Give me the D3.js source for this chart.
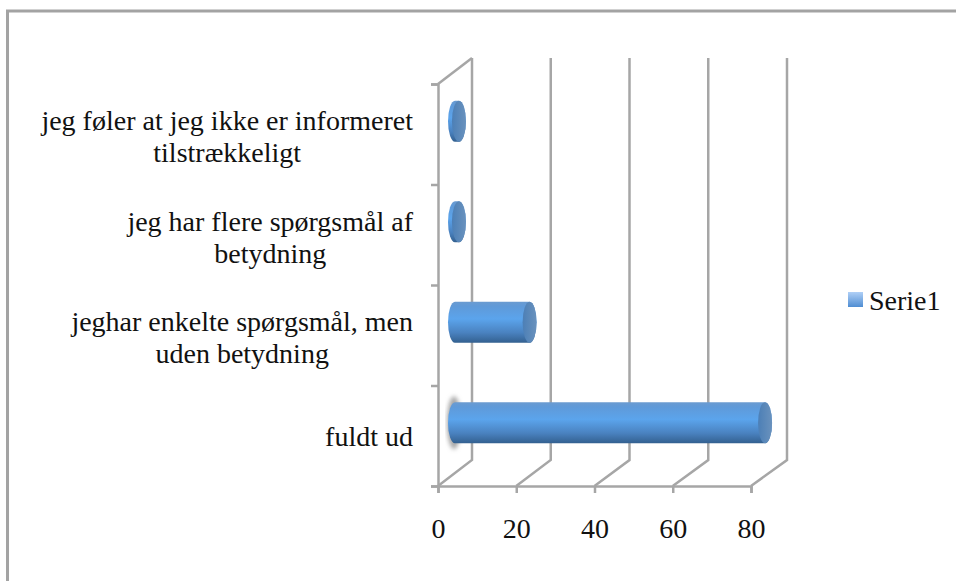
<!DOCTYPE html>
<html>
<head>
<meta charset="utf-8">
<script src="https://cdn.jsdelivr.net/npm/d3@7"></script>
<style>
html, body { margin: 0; padding: 0; background: #fff; }
svg { display: block; }
text { font-family: "Liberation Serif", serif; fill: #111; }
</style>
</head>
<body>
<script>
const width = 956, height = 581;

const categories = ["fuldt ud", "jeghar enkelte", "jeg har flere", "jeg føler"];
const categoryLines = [
    ["fuldt ud"],
    ["jeghar enkelte spørgsmål, men", "uden betydning"],
    ["jeg har flere spørgsmål af", "betydning"],
    ["jeg føler at jeg ikke er informeret", "tilstrækkeligt"]
];
const values = [79, 19, 1, 1];
const xTicks = [0, 20, 40, 60, 80];
const seriesName = "Serie1";

// front plane of the 3d box, and the back wall which is a bit wider
const x = d3.scaleLinear().domain([0, 80]).range([438, 751]);
const xBack = d3.scaleLinear().domain([0, 80]).range([472, 787]);
const y = d3.scaleBand().domain(categories.slice().reverse()).range([84, 486]);
const depthY = -26;
const grey = "#a6a6a6";
const fontSize = 28;

const svg = d3.select("body").append("svg")
    .attr("width", width).attr("height", height)
    .attr("viewBox", [0, 0, width, height]);

const defs = svg.append("defs");

function gradient(id, stops, horizontal) {
    const g = defs.append("linearGradient").attr("id", id)
        .attr("x1", 0).attr("y1", 0)
        .attr("x2", horizontal ? 1 : 0).attr("y2", horizontal ? 0 : 1);
    stops.forEach(s => g.append("stop").attr("offset", s[0]).attr("stop-color", s[1]));
}
gradient("body", [[0, "#6b9bd0"], [0.12, "#5f9ad9"], [0.42, "#5ba4ec"], [0.75, "#4a82c0"], [1, "#33608f"]]);
gradient("cap", [[0, "#4c7fb6"], [1, "#6a92bd"]], true);
gradient("swatch", [[0, "#b0d0f7"], [1, "#4f8dd2"]]);
defs.append("filter").attr("id", "blur").append("feGaussianBlur").attr("stdDeviation", 2.2);

// outer frame, only top and left are visible
svg.append("path")
    .attr("d", d3.line()([[7.5, height], [7.5, 11], [width, 11]]))
    .attr("fill", "none").attr("stroke", "#a3a3a3").attr("stroke-width", 3);

// walls and gridlines
const grid = svg.append("g").attr("fill", "none").attr("stroke", grey).attr("stroke-width", 2.5);
grid.selectAll("path.floor")
    .data(xTicks)
    .join("path")
    .attr("class", "floor")
    .attr("d", d => d3.line()([
        [x(d), y.range()[1]],
        [xBack(d), y.range()[1] + depthY],
        [xBack(d), y.range()[0] + depthY]
    ]));
grid.append("path")
    .attr("d", d3.line()([
        [x(0), y.range()[0]],
        [xBack(0), y.range()[0] + depthY]
    ]));

// axes
const xAxis = svg.append("g")
    .attr("transform", `translate(0,${y.range()[1]})`)
    .call(d3.axisBottom(x).tickValues(xTicks).tickSize(7).tickPadding(25).tickFormat(d3.format("d")));
const yAxis = svg.append("g")
    .attr("transform", `translate(${x(0)},0)`)
    .call(d3.axisLeft(d3.scaleLinear().domain([0, 4]).range([y.range()[1], y.range()[0]]))
        .ticks(4).tickSize(7).tickFormat(""));
[xAxis, yAxis].forEach(a => {
    a.selectAll(".domain, .tick line").attr("stroke", grey).attr("stroke-width", 2.5);
});
xAxis.selectAll("text").style("font-family", '"Liberation Serif", serif').attr("font-size", fontSize).attr("fill", "#111");

// cylinders sit half way between the front and the back plane
const mid = v => (x(v) + xBack(v)) / 2;
const rx = 7, half = y.bandwidth() * 0.205;
const bars = svg.append("g").selectAll("g")
    .data(categories.map((c, i) => ({ c, v: values[i] })))
    .join("g")
    .attr("transform", d => `translate(0,${y(d.c) + y.bandwidth() / 2 + depthY / 2})`);

bars.filter(d => d.v > 50).append("ellipse")
    .attr("cx", mid(0) - 1)
    .attr("rx", rx).attr("ry", half + 6)
    .attr("fill", "#a8a8a8").attr("filter", "url(#blur)");

bars.append("path")
    .attr("fill", "url(#body)")
    .attr("d", d => {
        const x0 = mid(0), x1 = mid(d.v);
        return `M${x0},${-half}L${x1},${-half}A${rx},${half} 0 0 1 ${x1},${half}` +
            `L${x0},${half}A${rx},${half} 0 0 1 ${x0},${-half}Z`;
    });

bars.append("ellipse")
    .attr("cx", d => mid(d.v))
    .attr("rx", rx).attr("ry", half)
    .attr("fill", "url(#cap)");

// category labels, centred line by line with the right edge of the longest one at 414
const labels = svg.append("g").attr("font-size", fontSize);
categories.forEach((c, i) => {
    const cy = y(c) + y.bandwidth() / 2;
    const lines = categoryLines[i];
    const first = labels.append("text")
        .attr("x", 413)
        .attr("y", lines.length > 1 ? cy - 4 : cy + 10)
        .attr("text-anchor", "end")
        .text(lines[0]);
    if (lines.length > 1) {
        const w = first.node().getComputedTextLength();
        labels.append("text")
            .attr("x", 413 - w / 2)
            .attr("y", cy + 28)
            .attr("text-anchor", "middle")
            .text(lines[1]);
    }
});

// legend
const legend = svg.append("g").attr("transform", "translate(848,292)");
legend.append("rect").attr("width", 15).attr("height", 15).attr("fill", "url(#swatch)");
legend.append("text").attr("x", 21).attr("y", 18).attr("font-size", fontSize).text(seriesName);
</script>
</body>
</html>
